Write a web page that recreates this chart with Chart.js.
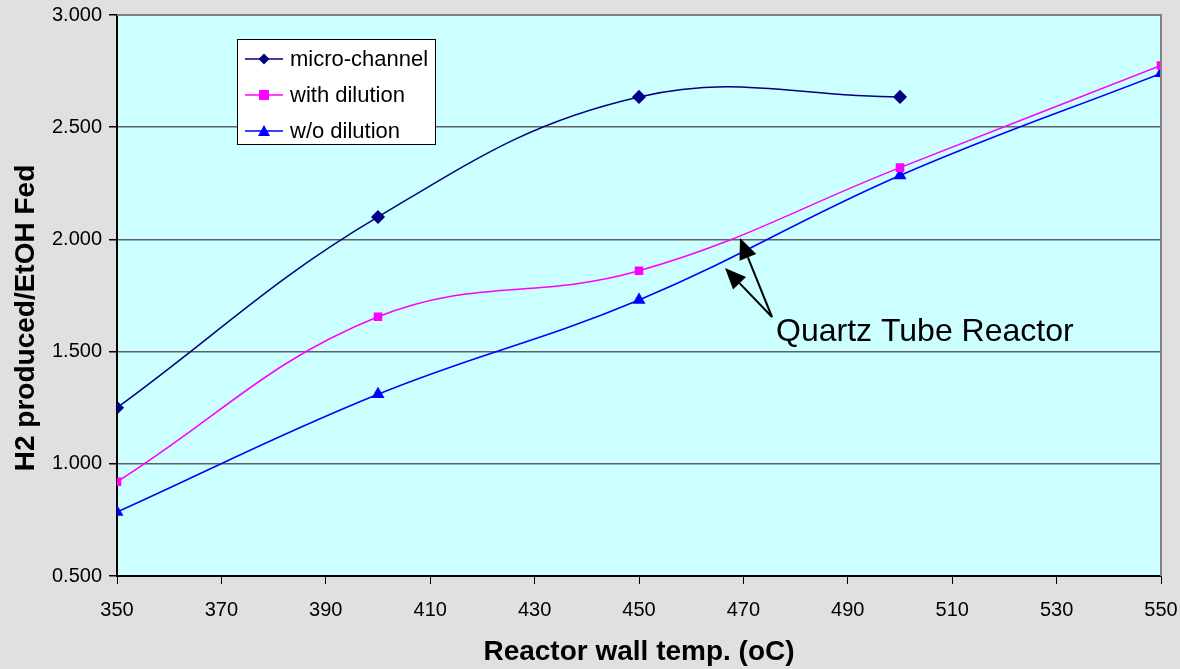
<!DOCTYPE html>
<html><head><meta charset="utf-8">
<script src="https://cdn.jsdelivr.net/npm/chart.js@4.4.1/dist/chart.umd.min.js"></script>
<style>html,body{margin:0;padding:0;background:#e0e0e0;}#wrap{width:1180px;height:669px;}</style>
</head><body><div id="wrap"><canvas id="c" width="1180" height="669"></canvas></div>
<script>
const temps = [350, 400, 450, 500, 550];
const microChannel = [1.25, 2.10, 2.635, 2.635];
const withDilution = [0.92, 1.655, 1.86, 2.32, 2.775];
const woDilution = [0.785, 1.31, 1.73, 2.285, 2.74];
const seriesNames = ['micro-channel', 'with dilution', 'w/o dilution'];
const xTitle = 'Reactor wall temp. (oC)';
const yTitle = 'H2 produced/EtOH Fed';
const noteText = 'Quartz Tube Reactor';

function pts(vals){ return vals.map((v,i)=>({x:temps[i], y:v})); }

const FONT = '"Liberation Sans", Arial, sans-serif';

const bgPlugin = {
  id:'bg',
  beforeDraw(chart){
    const {ctx, chartArea:a} = chart;
    ctx.save();
    ctx.fillStyle = '#e0e0e0';
    ctx.fillRect(0,0,chart.width,chart.height);
    ctx.fillStyle = '#ccffff';
    ctx.fillRect(a.left, a.top, a.right-a.left, a.bottom-a.top);
    ctx.restore();
  },
  afterDatasetsDraw(chart){
    const {ctx, chartArea:a} = chart;
    ctx.save();
    ctx.strokeStyle = '#808080';
    ctx.lineWidth = 2;
    ctx.beginPath();
    ctx.moveTo(a.left, a.top); ctx.lineTo(a.right, a.top); ctx.lineTo(a.right, a.bottom);
    ctx.stroke();
    ctx.restore();
  }
};

function arrow(ctx, x0, y0, x1, y1){
  const ang = Math.atan2(y1-y0, x1-x0);
  const L = 21, W = 9;
  const bx = x1 - L*Math.cos(ang), by = y1 - L*Math.sin(ang);
  ctx.beginPath(); ctx.moveTo(x0,y0); ctx.lineTo(bx,by); ctx.stroke();
  ctx.beginPath();
  ctx.moveTo(x1,y1);
  ctx.lineTo(bx + W*Math.sin(ang), by - W*Math.cos(ang));
  ctx.lineTo(bx - W*Math.sin(ang), by + W*Math.cos(ang));
  ctx.closePath(); ctx.fill();
}

const overlayPlugin = {
  id:'overlay',
  afterDraw(chart){
    const ctx = chart.ctx;
    ctx.save();
    // y-axis title
    ctx.save();
    ctx.translate(26, 318);
    ctx.rotate(-Math.PI/2);
    ctx.font = 'bold 28px ' + FONT;
    ctx.fillStyle = '#000';
    ctx.textAlign = 'center';
    ctx.textBaseline = 'middle';
    ctx.fillText(yTitle, 0, 0);
    ctx.restore();
    // legend box
    ctx.fillStyle = '#ffffff';
    ctx.fillRect(237, 39, 199, 106);
    ctx.strokeStyle = '#000000';
    ctx.lineWidth = 1;
    ctx.strokeRect(237.5, 39.5, 198, 105);
    const ds = chart.data.datasets;
    ctx.font = '22px ' + FONT;
    ctx.textBaseline = 'middle';
    for (let i=0;i<ds.length;i++){
      const y = 59 + i*36;
      ctx.strokeStyle = ds[i].borderColor;
      ctx.lineWidth = 1.5;
      ctx.beginPath(); ctx.moveTo(245,y); ctx.lineTo(283,y); ctx.stroke();
      ctx.fillStyle = ds[i].borderColor;
      const cx = 264;
      ctx.beginPath();
      if (ds[i].pointStyle==='rectRot'){ ctx.moveTo(cx,y-5.5); ctx.lineTo(cx+5.5,y); ctx.lineTo(cx,y+5.5); ctx.lineTo(cx-5.5,y); }
      else if (ds[i].pointStyle==='rect'){ ctx.rect(cx-5,y-5,10,10); }
      else { ctx.moveTo(cx,y-6); ctx.lineTo(cx+6,y+5); ctx.lineTo(cx-6,y+5); }
      ctx.closePath(); ctx.fill();
      ctx.fillStyle = '#000000';
      ctx.fillText(ds[i].label, 290, y+1);
    }
    // annotation
    ctx.fillStyle = '#000'; ctx.strokeStyle = '#000'; ctx.lineWidth = 2;
    arrow(ctx, 772, 317, 740, 238);
    arrow(ctx, 772, 317, 725, 268);
    ctx.font = '32px ' + FONT;
    ctx.textBaseline = 'middle';
    ctx.fillText(noteText, 776, 332);
    ctx.restore();
  }
};

new Chart(document.getElementById('c'), {
  type:'line',
  data:{
    datasets:[
      {label:seriesNames[0], data:pts(microChannel), borderColor:'#000080', backgroundColor:'#000080', pointStyle:'rectRot', pointRadius:6, borderWidth:1.5, tension:0.4},
      {label:seriesNames[1], data:pts(withDilution), borderColor:'#ff00ff', backgroundColor:'#ff00ff', pointStyle:'rect', pointRadius:5, borderWidth:1.5, tension:0.4},
      {label:seriesNames[2], data:pts(woDilution), borderColor:'#0000ff', backgroundColor:'#0000ff', pointStyle:'triangle', pointRadius:6, borderWidth:1.5, tension:0.4}
    ]
  },
  options:{
    responsive:false, animation:false, devicePixelRatio:1,
    layout:{padding:{top:15, right:19, left:0, bottom:0}},
    plugins:{legend:{display:false}, tooltip:{enabled:false}},
    scales:{
      x:{type:'linear', min:350, max:550,
        afterFit(s){ s.height = 93; s.paddingLeft = 0; s.paddingRight = 0; },
        ticks:{stepSize:20, color:'#000', font:{size:20, family:FONT}, padding:14, maxRotation:0},
        grid:{drawOnChartArea:false, drawTicks:true, tickLength:8, color:'#000'},
        border:{color:'#000', width:2},
        title:{display:true, text:xTitle, color:'#000', font:{size:28, weight:'bold', family:FONT}, padding:{top:0, bottom:0}}
      },
      y:{min:0.5, max:3.0,
        afterFit(s){ s.width = 117; s.paddingTop = 0; s.paddingBottom = 0; },
        ticks:{stepSize:0.5, color:'#000', font:{size:20, family:FONT}, padding:7, callback:v=>Number(v).toFixed(3)},
        grid:{color:'#606060', lineWidth:1.5, tickLength:8, tickColor:'#000'},
        border:{color:'#000', width:2},
        title:{display:false}
      }
    }
  },
  plugins:[bgPlugin, overlayPlugin]
});
</script></body></html>
